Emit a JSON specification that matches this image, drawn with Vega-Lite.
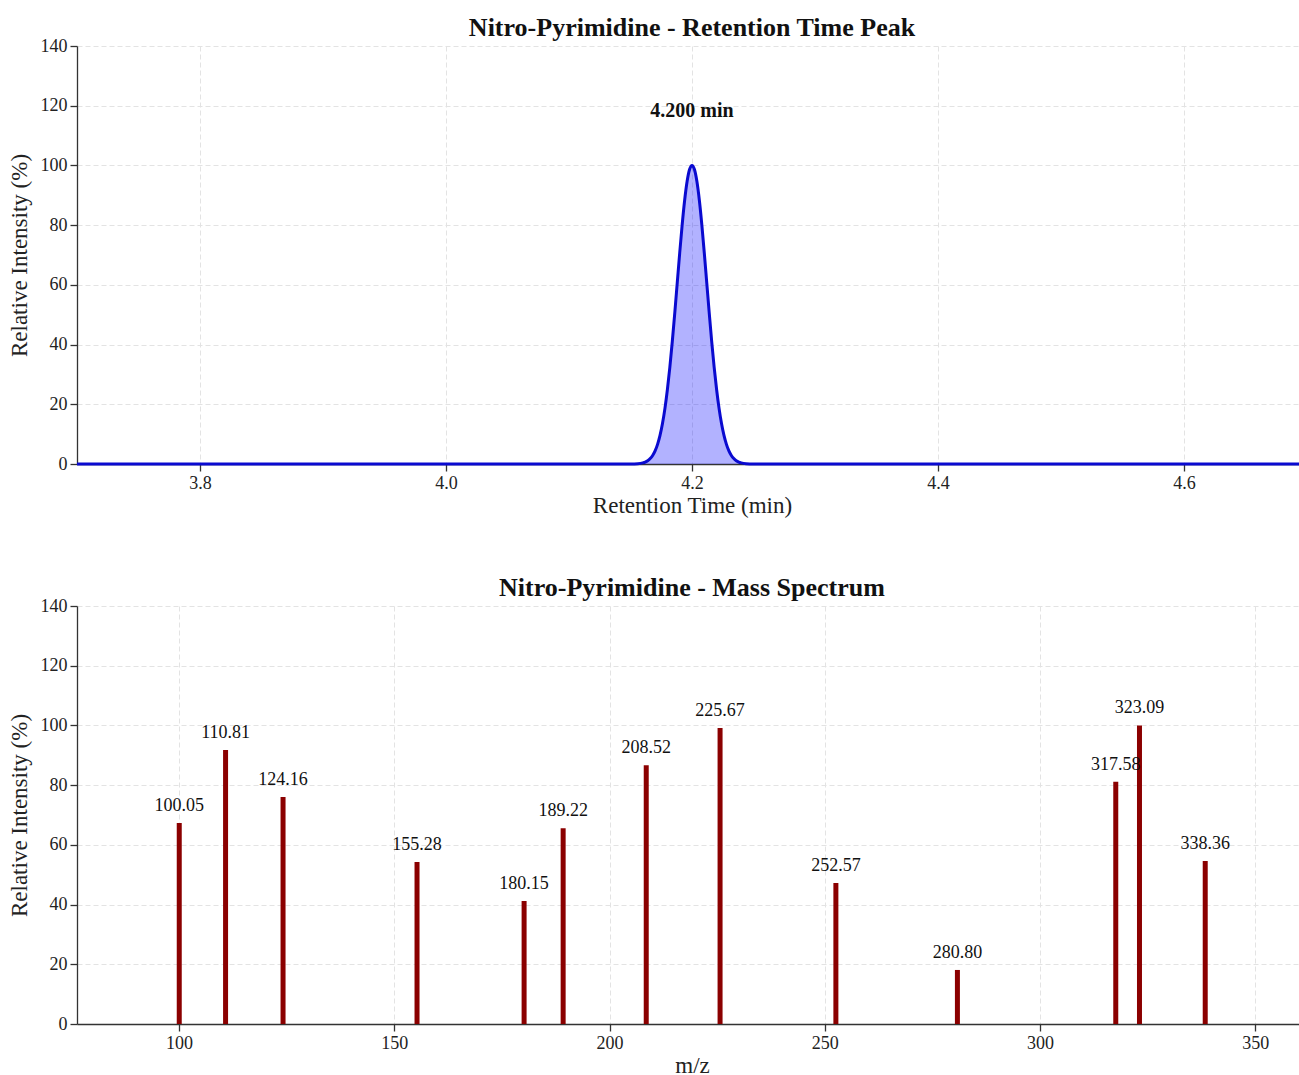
{
  "$schema": "https://vega.github.io/schema/vega-lite/v6.json",
  "padding": {"left": 8, "top": 15, "right": 0, "bottom": 0},
  "background": "white",
  "spacing": 58,
  "config": {
    "font": "Liberation Serif",
    "view": {"stroke": null},
    "axis": {
      "labelFont": "Liberation Serif", "titleFont": "Liberation Serif",
      "labelFontSize": 18, "titleFontSize": 23, "titleFontWeight": "normal",
      "labelColor": "#222222", "titleColor": "#222222",
      "domainColor": "#333333", "domainWidth": 1.3, "tickColor": "#333333", "tickWidth": 1.3,
      "gridColor": "#e3e3e3", "gridDash": [5, 3], "gridWidth": 1,
      "tickSize": 7, "labelPadding": 3
    },
    "axisY": {"titlePadding": 9},
    "axisX": {"titlePadding": 2, "zindex": 1},
    "title": {"font": "Liberation Serif", "fontSize": 26, "fontWeight": "bold", "color": "#111111", "offset": -4}
  },
  "datasets": {
    "chrom": [
      {"t": 3.7, "intensity": 0},
      {"t": 4.14, "intensity": 0},
      {"t": 4.15, "intensity": 0.02},
      {"t": 4.156, "intensity": 0.12},
      {"t": 4.16, "intensity": 0.39},
      {"t": 4.162, "intensity": 0.66},
      {"t": 4.164, "intensity": 1.11},
      {"t": 4.166, "intensity": 1.81},
      {"t": 4.168, "intensity": 2.86},
      {"t": 4.17, "intensity": 4.39},
      {"t": 4.172, "intensity": 6.57},
      {"t": 4.174, "intensity": 9.56},
      {"t": 4.176, "intensity": 13.53},
      {"t": 4.178, "intensity": 18.63},
      {"t": 4.18, "intensity": 24.94},
      {"t": 4.182, "intensity": 32.47},
      {"t": 4.184, "intensity": 41.11},
      {"t": 4.186, "intensity": 50.63},
      {"t": 4.188, "intensity": 60.65},
      {"t": 4.19, "intensity": 70.67},
      {"t": 4.192, "intensity": 80.07},
      {"t": 4.194, "intensity": 88.25},
      {"t": 4.196, "intensity": 94.59},
      {"t": 4.198, "intensity": 98.62},
      {"t": 4.2, "intensity": 100},
      {"t": 4.202, "intensity": 98.62},
      {"t": 4.204, "intensity": 94.59},
      {"t": 4.206, "intensity": 88.25},
      {"t": 4.208, "intensity": 80.07},
      {"t": 4.21, "intensity": 70.67},
      {"t": 4.212, "intensity": 60.65},
      {"t": 4.214, "intensity": 50.63},
      {"t": 4.216, "intensity": 41.11},
      {"t": 4.218, "intensity": 32.47},
      {"t": 4.22, "intensity": 24.94},
      {"t": 4.222, "intensity": 18.63},
      {"t": 4.224, "intensity": 13.53},
      {"t": 4.226, "intensity": 9.56},
      {"t": 4.228, "intensity": 6.57},
      {"t": 4.23, "intensity": 4.39},
      {"t": 4.232, "intensity": 2.86},
      {"t": 4.234, "intensity": 1.81},
      {"t": 4.236, "intensity": 1.11},
      {"t": 4.238, "intensity": 0.66},
      {"t": 4.24, "intensity": 0.39},
      {"t": 4.244, "intensity": 0.12},
      {"t": 4.25, "intensity": 0.02},
      {"t": 4.26, "intensity": 0},
      {"t": 4.7, "intensity": 0}
    ],
    "peak": [{"t": 4.2, "intensity": 100, "label": "4.200 min"}],
    "spectrum": [
      {"mz": 100.05, "intensity": 67.3},
      {"mz": 110.81, "intensity": 91.8},
      {"mz": 124.16, "intensity": 76.0},
      {"mz": 155.28, "intensity": 54.3},
      {"mz": 180.15, "intensity": 41.2},
      {"mz": 189.22, "intensity": 65.6},
      {"mz": 208.52, "intensity": 86.7},
      {"mz": 225.67, "intensity": 99.1},
      {"mz": 252.57, "intensity": 47.2},
      {"mz": 280.80, "intensity": 18.1},
      {"mz": 317.58, "intensity": 81.1},
      {"mz": 323.09, "intensity": 100},
      {"mz": 338.36, "intensity": 54.6}
    ]
  },
  "vconcat": [
    {
      "title": "Nitro-Pyrimidine - Retention Time Peak",
      "width": 1230,
      "height": 418,
      "layer": [
        {
          "data": {"name": "chrom"},
          "mark": {"type": "area", "color": "#0000ff", "opacity": 0.3, "interpolate": "monotone"},
          "encoding": {
            "x": {"field": "t", "type": "quantitative", "title": "Retention Time (min)",
                  "scale": {"domain": [3.7, 4.7], "nice": false, "zero": false},
                  "axis": {"values": [3.8, 4.0, 4.2, 4.4, 4.6], "format": ".1f", "grid": true}},
            "y": {"field": "intensity", "type": "quantitative", "title": "Relative Intensity (%)",
                  "scale": {"domain": [0, 140], "nice": false},
                  "axis": {"values": [0, 20, 40, 60, 80, 100, 120, 140], "grid": true}}
          }
        },
        {
          "data": {"name": "chrom"},
          "mark": {"type": "line", "color": "#0a0ad0", "strokeWidth": 3, "interpolate": "monotone", "strokeJoin": "round"},
          "encoding": {
            "x": {"field": "t", "type": "quantitative"},
            "y": {"field": "intensity", "type": "quantitative"}
          }
        },
        {
          "data": {"name": "peak"},
          "mark": {"type": "text", "fontSize": 20, "fontWeight": "bold", "color": "#111111", "baseline": "middle", "dy": -54},
          "encoding": {
            "x": {"field": "t", "type": "quantitative"},
            "y": {"field": "intensity", "type": "quantitative"},
            "text": {"field": "label"}
          }
        }
      ]
    },
    {
      "title": "Nitro-Pyrimidine - Mass Spectrum",
      "width": 1230,
      "height": 418,
      "data": {"name": "spectrum"},
      "layer": [
        {
          "mark": {"type": "rule", "color": "#8b0000", "strokeWidth": 5, "strokeCap": "butt"},
          "encoding": {
            "x": {"field": "mz", "type": "quantitative", "title": "m/z",
                  "scale": {"domain": [76.3, 362], "nice": false, "zero": false},
                  "axis": {"values": [100, 150, 200, 250, 300, 350], "grid": true}},
            "y": {"field": "intensity", "type": "quantitative", "title": "Relative Intensity (%)",
                  "scale": {"domain": [0, 140], "nice": false},
                  "axis": {"values": [0, 20, 40, 60, 80, 100, 120, 140], "grid": true}},
            "y2": {"datum": 0}
          }
        },
        {
          "mark": {"type": "text", "fontSize": 18, "color": "#111111", "baseline": "alphabetic", "dy": -12},
          "encoding": {
            "x": {"field": "mz", "type": "quantitative"},
            "y": {"field": "intensity", "type": "quantitative"},
            "text": {"field": "mz", "type": "quantitative", "format": ".2f"}
          }
        }
      ]
    }
  ]
}
